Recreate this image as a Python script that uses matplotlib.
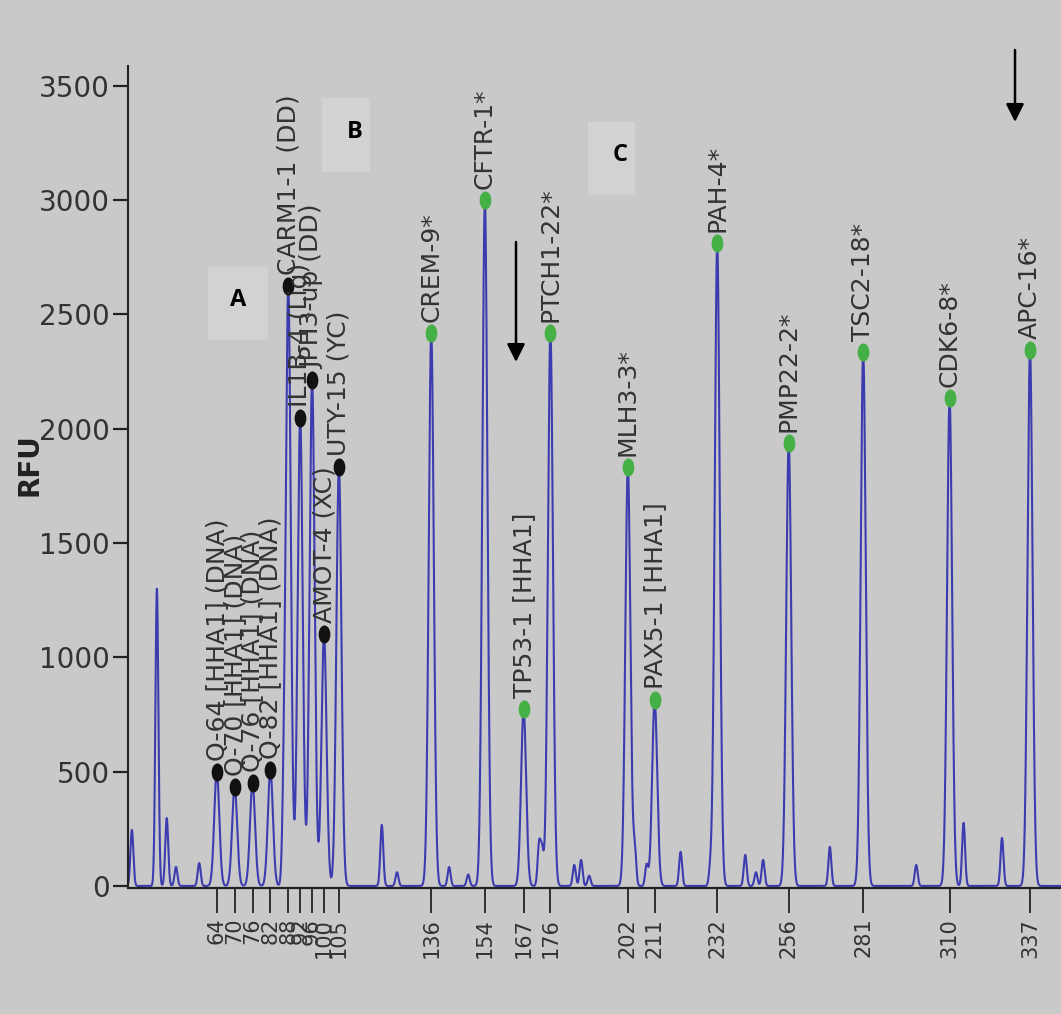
import numpy as np
import matplotlib
matplotlib.use("Agg")
import matplotlib.pyplot as plt
from matplotlib.path import Path
from matplotlib.patches import Rectangle

# ---------------- data ----------------
probe_names = [
    "Q-64 [HHA1] (DNA)", "Q-70 [HHA1] (DNA)", "Q-76 [HHA1] (DNA)", "Q-82 [HHA1] (DNA)",
    "CARM1-1 (DD)", "IL1B-4 (Lig)", "JPH3-up (DD)", "AMOT-4 (XC)", "UTY-15 (YC)",
    "CREM-9*", "CFTR-1*", "TP53-1 [HHA1]", "PTCH1-22*", "MLH3-3*", "PAX5-1 [HHA1]",
    "PAH-4*", "PMP22-2*", "TSC2-18*", "CDK6-8*", "APC-16*",
]
probe_sizes = [64, 70, 76, 82, 88, 92, 96, 100, 105,
               136, 154, 167, 176, 202, 211, 232, 256, 281, 310, 337]
probe_heights = [500, 433, 450, 507, 2624, 2047, 2213, 1102, 1833,
                 2419, 3000, 774, 2419, 1833, 814, 2812, 1938, 2336, 2135, 2344]
probe_is_control = [True] * 9 + [False] * 11

# unlabelled minor peaks (size in nt, height in RFU)
minor_sizes = [35.5, 43.9, 47.2, 50.3, 58.1, 86.4, 119.4, 124.5, 142.0, 148.4,
               172.2, 173.2, 184.0, 186.3, 189.0, 204.3, 208.3, 219.7, 229.7,
               241.4, 245.0, 247.4, 269.8, 298.8, 314.7, 327.6]
minor_heights = [245, 1300, 297, 83, 100, 200, 267, 60, 83, 50,
                 180, 150, 92, 114, 45, 157, 92, 149, 70,
                 136, 60, 114, 171, 92, 276, 210]

tick_labels = [str(s) for s in probe_sizes]
y_ticks = [0, 500, 1000, 1500, 2000, 2500, 3000, 3500]

# ---------------- figure ----------------
W, H = 1061, 1014
DPI = 100
BG = "#c9c9c9"
TRACE = "#3c3cb0"
TXT = "#333333"

fig = plt.figure(figsize=(W / DPI, H / DPI), dpi=DPI, facecolor=BG)
ax = fig.add_axes([128 / W, (H - 888) / H, (W - 128) / W, (888 - 66) / H])
ax.set_facecolor("none")

# electropherogram trace built from the peak list
x = np.linspace(34.2, 347.4, 30000)
y = np.zeros_like(x)
for s, h in zip(probe_sizes, probe_heights):
    y += h * np.exp(-0.5 * ((x - s) / 0.85) ** 2)
for s, h in zip(minor_sizes, minor_heights):
    y += h * np.exp(-0.5 * ((x - s) / 0.5) ** 2)
ax.plot(x, y, color=TRACE, lw=1.5, zorder=2, solid_joinstyle="round")

# peak markers (vertically elongated dots) and rotated peak labels
circ = Path.unit_circle()
ell = Path(circ.vertices * np.array([0.62, 1.0]), circ.codes)
for s, h, ctrl, name in zip(probe_sizes, probe_heights, probe_is_control, probe_names):
    col = "#111111" if ctrl else "#45b045"
    ax.plot([s], [h], marker=ell, ms=12, color=col, mec=col, zorder=4, clip_on=False)
    ax.annotate(name, xy=(s, h), xytext=(0, 8), textcoords="offset points",
                rotation=90, ha="center", va="bottom", fontsize=18,
                family=["DejaVu Sans"], color=TXT, zorder=5)

ax.set_xlim(34.2, 347.4)
ax.set_ylim(-9, 3587)

ax.set_xticks(probe_sizes)
ax.set_xticklabels(tick_labels, rotation=90, fontsize=15, color=TXT,
                   family=["DejaVu Sans"])
ax.set_yticks(y_ticks)
ax.set_yticklabels([str(v) for v in y_ticks], fontsize=20, color=TXT,
                   family=["Liberation Sans Narrow", "DejaVu Sans"])
ax.tick_params(axis="x", direction="out", length=18, width=1.3, pad=3.5, colors="#222222")
ax.tick_params(axis="y", direction="out", length=10.8, width=1.6, pad=2, colors="#222222")
for lab in ax.get_xticklabels() + ax.get_yticklabels():
    lab.set_color(TXT)

for sp in ("top", "right"):
    ax.spines[sp].set_visible(False)
ax.spines["left"].set_linewidth(1.5)
ax.spines["bottom"].set_linewidth(1.6)
ax.spines["left"].set_color("#222222")
ax.spines["bottom"].set_color("#222222")

# y-axis title
fig.text(29 / W, 1 - 465 / H, "RFU", rotation=90, ha="center", va="center",
         fontsize=20, fontweight="bold", color="#222222", family=["DejaVu Sans"])

# panel letters with light boxes
boxes = [("A", 208, 267, 60, 73, 238, 300),
         ("B", 322, 98, 48, 74, 355, 132),
         ("C", 588, 122, 47, 73, 620, 155)]
for letter, bx, by, bw, bh, tx, ty in boxes:
    fig.add_artist(Rectangle((bx / W, 1 - (by + bh) / H), bw / W, bh / H,
                             transform=fig.transFigure, facecolor="#d2d2d2",
                             edgecolor="none", zorder=-1))
    fig.text(tx / W, 1 - ty / H, letter, ha="center", va="center", fontsize=17,
             fontweight="bold", color="black", family=["Open Sans", "DejaVu Sans"])

# arrows
arrow_style = "-|>,head_length=0.6,head_width=0.3"
for (xa, y0, y1) in [(516, 242, 362), (1015, 50, 122)]:
    ax.annotate("", xy=(xa, H - y1), xytext=(xa, H - y0), xycoords="figure pixels",
                textcoords="figure pixels",
                arrowprops=dict(arrowstyle=arrow_style, color="black", lw=1.8,
                                mutation_scale=18, shrinkA=0, shrinkB=0),
                zorder=6)

fig.savefig("out.png", dpi=DPI, facecolor=BG)
